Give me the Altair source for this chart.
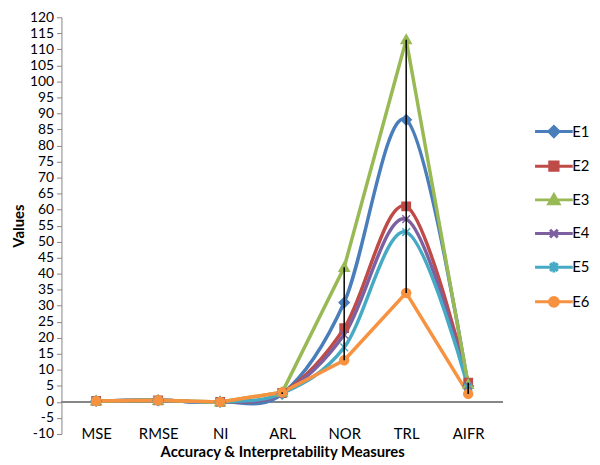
import altair as alt
import pandas as pd

measures = ["MSE", "RMSE", "NI", "ARL", "NOR", "TRL", "AIFR"]
series = ["E1", "E2", "E3", "E4", "E5", "E6"]
e1 = [0.3, 0.5, 0.0, 2.5, 31, 88, 5.0]
e2 = [0.3, 0.5, 0.0, 2.8, 23, 61, 6.0]
e3 = [0.3, 0.5, 0.0, 3.0, 42, 113, 5.5]
e4 = [0.3, 0.5, 0.0, 2.6, 21, 57, 5.0]
e5 = [0.3, 0.5, 0.0, 2.7, 17, 53, 4.5]
e6 = [0.3, 0.5, 0.0, 3.0, 13, 34, 2.5]
values_by_series = [e1, e2, e3, e4, e5, e6]
colors = ["#4A7EBB", "#BE4B48", "#98B954", "#7D60A0", "#46AAC5", "#F69240"]
smooth_series = ["E1", "E2", "E4", "E5"]
linear_series = ["E3", "E6"]
y_ticks = list(range(-10, 121, 5))

rows = []
for s, vals in zip(series, values_by_series):
    for i, (m, v) in enumerate(zip(measures, vals)):
        rows.append({"measure": m, "series": s, "value": v, "idx": i})
df = pd.DataFrame(rows)


def f(v):
    return ("%.3f" % v).rstrip("0").rstrip(".")


def marker(kind, s):
    if kind == "diamond":
        a = 0.85 * s
        return f"M0,{f(-a)}L{f(a)},0L0,{f(a)}L{f(-a)},0Z"
    if kind == "square":
        a = 0.7 * s
        return f"M{f(-a)},{f(-a)}H{f(a)}V{f(a)}H{f(-a)}Z"
    if kind == "triangle":
        a = 0.85 * s
        b = 0.65 * s
        return f"M0,{f(-a)}L{f(a)},{f(b)}H{f(-a)}Z"
    if kind == "x":
        a = 0.65 * s
        return f"M{f(-a)},{f(-a)}L{f(a)},{f(a)}M{f(-a)},{f(a)}L{f(a)},{f(-a)}"
    if kind == "star":
        a = 0.65 * s
        b = 0.9 * s
        return (f"M{f(-a)},{f(-a)}L{f(a)},{f(a)}M{f(-a)},{f(a)}L{f(a)},{f(-a)}"
                f"M0,{f(-b)}V{f(b)}")
    a = 0.75 * s
    return f"M{f(a)},0A{f(a)},{f(a)} 0 1,1 {f(-a)},0A{f(a)},{f(a)} 0 1,1 {f(a)},0Z"


kinds = ["diamond", "square", "triangle", "x", "star", "circle"]
point_paths = [marker(k, 1.0) for k in kinds]
legend_paths = ["M-1.12,0H1.12" + marker(k, 0.353) for k in kinds]

FONT = "Lato"

x_axis = alt.Axis(
    title="Accuracy & Interpretability Measures",
    labelAngle=0, labelFont=FONT, labelFontSize=15, labelColor="black",
    labelBaseline="middle", labelPadding=0, ticks=False, tickSize=0,
    domain=False, grid=False,
    titleFont=FONT, titleFontSize=15, titleFontWeight="bold",
    titleColor="black", titlePadding=3,
)
y_axis = alt.Axis(
    values=y_ticks, title="Values", grid=False, labelOverlap=False,
    labelExpr="'' + datum.value",
    labelFont=FONT, labelFontSize=14, labelColor="black", labelPadding=3,
    tickSize=5, tickColor="#868686", domainColor="#868686",
    titleFont=FONT, titleFontSize=15, titleFontWeight="bold",
    titleColor="black", titlePadding=3,
)
x_scale = alt.Scale(type="point", domain=measures, padding=0.56)
y_scale = alt.Scale(domain=[-10, 120], nice=False, zero=False)

x_enc = alt.X("measure:N", sort=measures, scale=x_scale, axis=x_axis)
y_enc = alt.Y("value:Q", scale=y_scale, axis=y_axis)

color_scale = alt.Scale(domain=series, range=colors)

base = alt.Chart(df)

zero_rule = base.mark_rule(color="#868686", strokeWidth=1).encode(
    y=alt.datum(0, scale=y_scale, axis=y_axis)
)

smooth_lines = base.transform_filter(
    alt.FieldOneOfPredicate(field="series", oneOf=smooth_series)
).mark_line(strokeWidth=3.5, interpolate="cardinal").encode(
    x=x_enc, y=y_enc,
    color=alt.Color("series:N", scale=color_scale, legend=None),
    order=alt.Order("idx:Q"),
)

linear_lines = base.transform_filter(
    alt.FieldOneOfPredicate(field="series", oneOf=linear_series)
).mark_line(strokeWidth=3.5).encode(
    x=x_enc, y=y_enc,
    color=alt.Color("series:N", scale=color_scale, legend=None),
    order=alt.Order("idx:Q"),
)

points = base.mark_point(filled=True, size=144, strokeWidth=1.5, opacity=1).encode(
    x=x_enc, y=y_enc,
    color=alt.Color("series:N", scale=color_scale, legend=None),
    stroke=alt.Stroke("series:N", scale=color_scale, legend=None),
    shape=alt.Shape("series:N", scale=alt.Scale(domain=series, range=point_paths),
                    legend=None),
)

leg = alt.Legend(
    title=None, orient="none", legendX=479, legendY=97,
    labelFont=FONT, labelFontSize=15, labelColor="black", labelOffset=0,
    symbolSize=1156, symbolStrokeWidth=3, symbolOpacity=1, rowPadding=5,
    padding=0,
)

legend_layer = base.transform_filter("datum.value > 100000").mark_point(
    filled=True, strokeWidth=3
).encode(
    x=x_enc, y=y_enc,
    color=alt.Color("series:N", scale=color_scale, legend=leg),
    stroke=alt.Stroke("series:N", scale=color_scale, legend=leg),
    shape=alt.Shape("series:N", scale=alt.Scale(domain=series, range=legend_paths),
                    legend=leg),
)

hilo = base.transform_aggregate(
    lo="min(value)", hi="max(value)", groupby=["measure"]
).mark_rule(color="black", strokeWidth=1.5).encode(
    x=x_enc,
    y=alt.Y("lo:Q", scale=y_scale, axis=y_axis),
    y2="hi:Q",
)

chart = alt.layer(
    zero_rule, smooth_lines, linear_lines, points, legend_layer, hilo
).resolve_scale(
    color="independent", stroke="independent", shape="independent"
).properties(
    width=446, height=421,
    autosize=alt.AutoSizeParams(type="none"),
    padding={"left": 54, "top": 7, "right": 90, "bottom": 30},
    background="white",
).configure_view(stroke=None).configure_axisY(labelOverlap=False)

chart.save("out.html", embed_options={"renderer": "svg", "actions": False})
